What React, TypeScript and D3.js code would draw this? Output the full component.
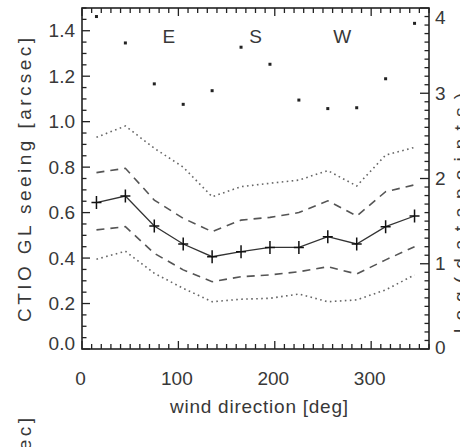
import React, { useEffect, useRef } from "react";
import * as d3 from "d3";

// wind direction bins (deg)
const windDir = [15, 45, 75, 105, 135, 165, 195, 225, 255, 285, 315, 345];
// median GL seeing (arcsec)
const median = [0.644, 0.673, 0.541, 0.462, 0.406, 0.428, 0.447, 0.447, 0.494, 0.462, 0.538, 0.585];
// quartiles
const upperQuart = [0.776, 0.795, 0.655, 0.575, 0.516, 0.567, 0.579, 0.6, 0.652, 0.585, 0.692, 0.722];
const lowerQuart = [0.524, 0.538, 0.421, 0.348, 0.296, 0.318, 0.326, 0.34, 0.362, 0.33, 0.392, 0.45];
// 10% / 90% percentiles
const upperDec = [0.931, 0.981, 0.883, 0.8, 0.67, 0.714, 0.729, 0.743, 0.785, 0.717, 0.853, 0.887];
const lowerDec = [0.395, 0.43, 0.333, 0.267, 0.208, 0.219, 0.223, 0.242, 0.208, 0.216, 0.26, 0.326];
// log10 of number of datapoints per bin (right axis)
const logCount = [3.9, 3.59, 3.11, 2.87, 3.03, 3.54, 3.34, 2.92, 2.82, 2.83, 3.17, 3.82];

const compass = [
  { dir: 90, label: "E" },
  { dir: 180, label: "S" },
  { dir: 270, label: "W" },
];
const xTickLabels = [0, 100, 200, 300];
const yTickLabels = [0, 0.2, 0.4, 0.6, 0.8, 1.0, 1.2, 1.4];
const rTickLabels = [0, 1, 2, 3, 4];

function App() {
  const ref = useRef(null);
  const W = 460;
  const H = 447;
  const left = 82, right = 429, top = 8, bottom = 349;

  useEffect(() => {
    const svg = d3.select(ref.current);
    svg.selectAll("*").remove();
    const font = "'Liberation Sans', Arial, sans-serif";
    const txt = "#383838";

    const x = d3.scaleLinear().domain([0, 360]).range([left, right]);
    const y = d3.scaleLinear().domain([0, 1.5]).range([bottom, top]);
    const yR = d3.scaleLinear().domain([0, 4]).range([bottom, top]);

    const g = svg.append("g");

    // ticks
    const ticks = g.append("g").attr("stroke", "#222").attr("stroke-width", 1.3);
    d3.range(0, 361, 10).forEach((d) => {
      const len = d % 100 === 0 ? 8 : 5;
      ticks.append("line").attr("x1", x(d)).attr("x2", x(d)).attr("y1", bottom).attr("y2", bottom - len);
      ticks.append("line").attr("x1", x(d)).attr("x2", x(d)).attr("y1", top).attr("y2", top + len);
    });
    d3.range(0, 31).forEach((i) => {
      const len = i % 4 === 0 ? 8 : 4.5;
      const v = i * 0.05;
      if (v > 1.5) return;
      ticks.append("line").attr("x1", left).attr("x2", left + len).attr("y1", y(v)).attr("y2", y(v));
    });
    d3.range(0, 41).forEach((i) => {
      const len = i % 10 === 0 ? 9 : 4.5;
      ticks.append("line").attr("x1", right).attr("x2", right - len).attr("y1", yR(i / 10)).attr("y2", yR(i / 10));
    });

    // frame
    g.append("rect")
      .attr("x", left).attr("y", top)
      .attr("width", right - left).attr("height", bottom - top)
      .attr("fill", "none").attr("stroke", "#222").attr("stroke-width", 1.6);

    const line = (vals) =>
      d3.line().x((d, i) => x(windDir[i])).y((d) => y(d))(vals);

    // percentile lines
    [upperDec, lowerDec].forEach((vals) => {
      g.append("path").attr("d", line(vals)).attr("fill", "none")
        .attr("stroke", "#666").attr("stroke-width", 1.6)
        .attr("stroke-dasharray", "1.6,3.4");
    });
    [upperQuart, lowerQuart].forEach((vals) => {
      g.append("path").attr("d", line(vals)).attr("fill", "none")
        .attr("stroke", "#555").attr("stroke-width", 1.6)
        .attr("stroke-dasharray", "8,6");
    });
    g.append("path").attr("d", line(median)).attr("fill", "none")
      .attr("stroke", "#333").attr("stroke-width", 1.3);
    g.selectAll(".plus").data(median).enter().append("path")
      .attr("d", (d, i) => `M${x(windDir[i]) - 5},${y(d)}H${x(windDir[i]) + 5}M${x(windDir[i])},${y(d) - 6.5}V${y(d) + 6.5}`)
      .attr("stroke", "#111").attr("stroke-width", 1.5).attr("fill", "none");

    // datapoint counts
    g.selectAll(".dot").data(logCount).enter().append("rect")
      .attr("x", (d, i) => x(windDir[i]) - 1.5)
      .attr("y", (d) => yR(d) - 1.5)
      .attr("width", 3).attr("height", 3)
      .attr("fill", "#222");

    // labels
    const t = g.append("g").attr("font-family", font).attr("fill", txt).attr("font-size", 19);
    xTickLabels.forEach((d) => {
      t.append("text").attr("x", x(d) - 1.5).attr("y", 385).attr("text-anchor", "middle").text(d);
    });
    yTickLabels.forEach((d) => {
      const yy = Math.min(y(d), 343);
      t.append("text").attr("x", 75).attr("y", yy).attr("dy", "0.35em")
        .attr("text-anchor", "end").text(d3.format(".1f")(d));
    });
    rTickLabels.forEach((d) => {
      const yy = Math.max(yR(d), 17);
      t.append("text").attr("x", 435).attr("y", Math.min(yy, 347)).attr("dy", "0.35em").text(d);
    });
    compass.forEach((c) => {
      t.append("text").attr("x", x(c.dir)).attr("y", 43).attr("text-anchor", "middle").text(c.label);
    });

    t.append("text").attr("x", 170).attr("y", 413)
      .attr("textLength", 178).attr("lengthAdjust", "spacing")
      .text("wind direction [deg]");
    t.append("text").attr("transform", "translate(31,322) rotate(-90)")
      .attr("textLength", 284).attr("lengthAdjust", "spacing")
      .text("CTIO GL seeing [arcsec]");
    t.append("text").attr("transform", "translate(467,333) rotate(-90)")
      .attr("textLength", 240).attr("lengthAdjust", "spacing")
      .text("log(datapoints)");
    // y label of the panel below, cut off by the page edge
    t.append("text").attr("transform", "translate(31,702) rotate(-90)")
      .attr("textLength", 284).attr("lengthAdjust", "spacing")
      .text("CTIO GL seeing [arcsec]");
  }, []);

  return (
    <svg
      ref={ref}
      width={W}
      height={H}
      style={{ position: "absolute", left: 0, top: 0, background: "#fff" }}
    ></svg>
  );
}

export default App;
